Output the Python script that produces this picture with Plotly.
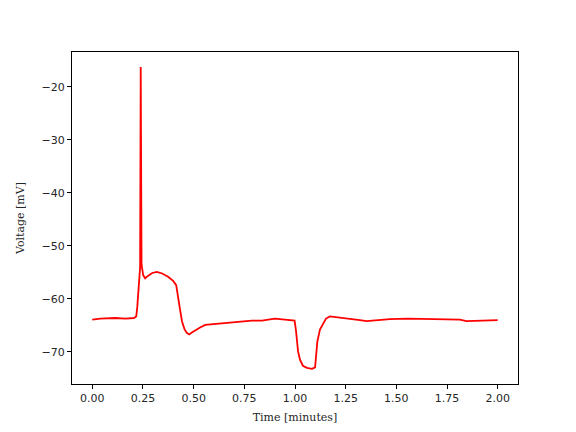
import plotly.graph_objects as go

time_min = [0.000, 0.039, 0.113, 0.163, 0.205, 0.217, 0.222, 0.227, 0.232, 0.236,
            0.239, 0.241, 0.243, 0.251, 0.261, 0.276, 0.296, 0.319, 0.345, 0.374,
            0.399, 0.414, 0.424, 0.433, 0.443, 0.455, 0.466, 0.478, 0.493, 0.512,
            0.532, 0.557, 0.606, 0.655, 0.719, 0.787, 0.837, 0.901, 0.951, 0.998,
            1.005, 1.010, 1.015, 1.025, 1.039, 1.059, 1.084, 1.099, 1.103, 1.110,
            1.123, 1.138, 1.153, 1.172, 1.222, 1.271, 1.320, 1.353, 1.402, 1.468,
            1.557, 1.665, 1.764, 1.813, 1.846, 1.911, 2.000]
voltage_mv = [-63.9, -63.7, -63.6, -63.7, -63.6, -63.3, -61.5, -58.5, -56.0, -54.0,
              -16.25, -45.0, -53.5, -55.5, -56.1, -55.6, -55.1, -54.9, -55.2, -55.8,
              -56.6, -57.4, -59.5, -62.0, -64.3, -65.7, -66.4, -66.7, -66.3, -65.8,
              -65.4, -64.9, -64.7, -64.5, -64.3, -64.1, -64.1, -63.7, -63.9, -64.1,
              -66.0, -68.0, -69.9, -71.5, -72.6, -73.0, -73.19, -72.9, -70.8, -68.1,
              -65.8, -64.6, -63.7, -63.3, -63.5, -63.8, -64.0, -64.2, -64.0, -63.8,
              -63.7, -63.8, -63.8, -63.9, -64.2, -64.1, -64.0]
x_ticks = [0.0, 0.25, 0.5, 0.75, 1.0, 1.25, 1.5, 1.75, 2.0]
y_ticks = [-70, -60, -50, -40, -30, -20]

fig = go.Figure()
fig.add_trace(go.Scatter(x=time_min, y=voltage_mv, mode="lines",
                         line=dict(color="red", width=1.8), showlegend=False))

axis_common = dict(showgrid=False, zeroline=False, showline=True, linecolor="black",
                   linewidth=1, mirror=True, ticks="outside", ticklen=4, tickwidth=1,
                   tickcolor="black",
                   tickfont=dict(family="DejaVu Sans", size=11, color="#262626"))

fig.update_layout(
    width=576, height=432,
    margin=dict(l=64, r=66, t=44, b=56),
    paper_bgcolor="white", plot_bgcolor="white",
    xaxis=dict(range=[-0.1, 2.1], tickvals=x_ticks, tickformat=".2f",
               title=dict(text="Time [minutes]", standoff=9,
                          font=dict(family="DejaVu Serif", size=11, color="#262626")),
               **axis_common),
    yaxis=dict(range=[-76.05, -13.4], tickvals=y_ticks,
               title=dict(text="Voltage [mV]", standoff=14,
                          font=dict(family="DejaVu Serif", size=11, color="#262626")),
               **axis_common),
)

fig.write_html("out.html")
